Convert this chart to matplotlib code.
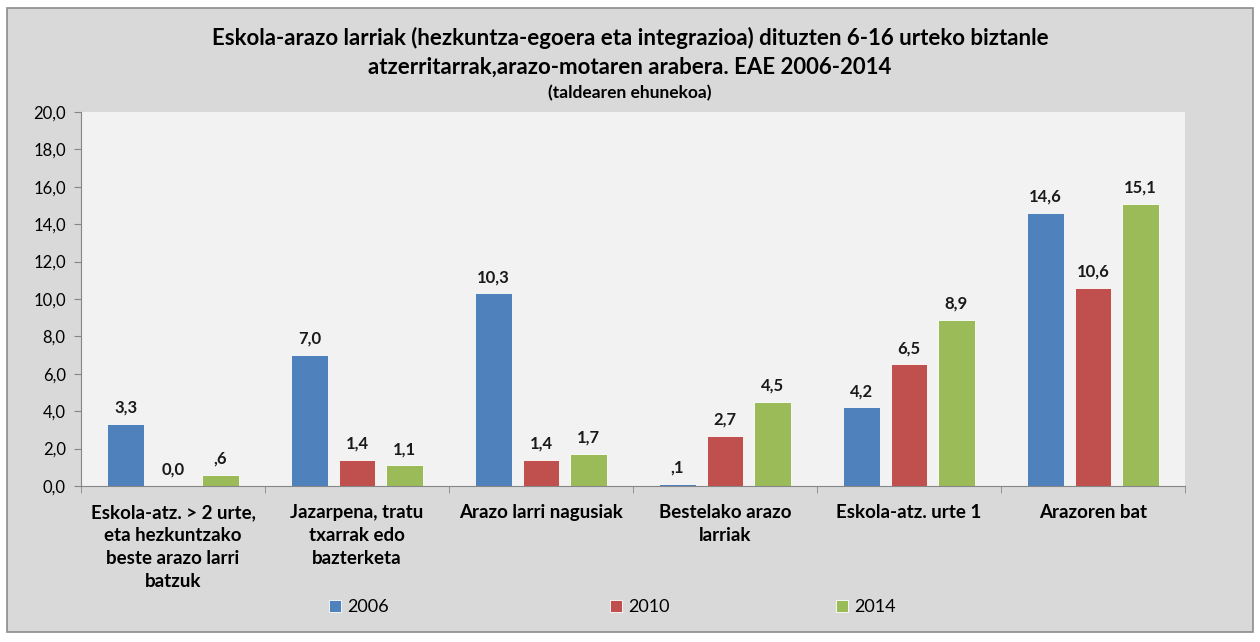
import numpy as np
import matplotlib.pyplot as plt
from matplotlib.patches import Rectangle

plt.rcParams['font.family'] = ['Lato', 'DejaVu Sans']

# Datuak
kategoriak = ["Eskola-atz. > 2 urte,\neta hezkuntzako\nbeste arazo larri\nbatzuk",
              "Jazarpena, tratu\ntxarrak edo\nbazterketa",
              "Arazo larri nagusiak",
              "Bestelako arazo\nlarriak",
              "Eskola-atz. urte 1",
              "Arazoren bat"]
urteak = ["2006", "2010", "2014"]
balioak_2006 = [3.3, 7.0, 10.3, 0.1, 4.2, 14.6]
balioak_2010 = [0.0, 1.4, 1.4, 2.7, 6.5, 10.6]
balioak_2014 = [0.6, 1.1, 1.7, 4.5, 8.9, 15.1]
etiketak_2006 = ["3,3", "7,0", "10,3", ",1", "4,2", "14,6"]
etiketak_2010 = ["0,0", "1,4", "1,4", "2,7", "6,5", "10,6"]
etiketak_2014 = [",6", "1,1", "1,7", "4,5", "8,9", "15,1"]
koloreak = ["#4f81bd", "#c0504d", "#9bbb59"]

fig = plt.figure(figsize=(12.6, 6.42), dpi=100, facecolor="white")
fig.patches.append(Rectangle((7/1260, 10/642), 1246/1260, 624/642, transform=fig.transFigure,
                             facecolor="#d9d9d9", edgecolor="#8c8c8c", linewidth=1.2, zorder=-10))
ax = fig.add_axes([81/1260, 1 - 486/642, 1104/1260, 374/642])
ax.set_facecolor("#f2f2f2")

x = np.arange(len(kategoriak))
zabalera = 0.196
desplaz = 0.258
serieak = [balioak_2006, balioak_2010, balioak_2014]
etiketak = [etiketak_2006, etiketak_2010, etiketak_2014]
barra_taldeak = []
for i in range(3):
    barrak = ax.bar(x + (i - 1) * desplaz, serieak[i], zabalera, color=koloreak[i],
                    edgecolor="white", linewidth=0.6, label=urteak[i])
    barra_taldeak.append(barrak)
    for b, testua in zip(barrak, etiketak[i]):
        ax.annotate(testua, (b.get_x() + b.get_width() / 2, b.get_height()),
                    xytext=(0, 6), textcoords="offset points", ha="center", va="bottom",
                    fontsize=12, fontweight="bold", color="#1a1a1a")

ax.set_xlim(-0.5, len(kategoriak) - 0.5)
ax.set_ylim(0, 20)
ax.set_yticks(np.arange(0, 21, 2))
ax.set_yticklabels([("%.1f" % v).replace(".", ",") for v in np.arange(0, 21, 2)], fontsize=12)
ax.set_xticks(x)
ax.set_xticklabels(kategoriak, fontsize=13.5, fontweight="bold", va="top", linespacing=1.42)
ax.tick_params(axis="x", length=0, pad=13)
ax.set_xticks(np.arange(-0.5, len(kategoriak), 1), minor=True)
ax.tick_params(axis="x", which="minor", length=5, color="#868686")
ax.tick_params(axis="y", length=5, color="#868686", pad=6)
for s in ["top", "right"]:
    ax.spines[s].set_visible(False)
ax.spines["left"].set_color("#868686")
ax.spines["bottom"].set_color("#868686")

fig.text(0.5, 1 - 38/642, "Eskola-arazo larriak (hezkuntza-egoera eta integrazioa) dituzten 6-16 urteko biztanle",
         ha="center", va="center", fontsize=16, fontweight="bold")
fig.text(0.5, 1 - 67/642, "atzerritarrak,arazo-motaren arabera. EAE 2006-2014",
         ha="center", va="center", fontsize=16, fontweight="bold")
fig.text(0.5, 1 - 93/642, "(taldearen ehunekoa)", ha="center", va="center", fontsize=12.5, fontweight="bold")

# legenda: elementu bakoitza bere tokian
leg_x = [329, 610, 836]
for i in range(3):
    leg = fig.legend([barra_taldeak[i]], [urteak[i]], loc="center left",
                     bbox_to_anchor=(leg_x[i] / 1260, 1 - 607 / 642), frameon=False,
                     fontsize=13, handlelength=0.65, handleheight=0.65, handletextpad=0.35,
                     borderpad=0, borderaxespad=0)

fig.savefig("out.png", dpi=100, facecolor=fig.get_facecolor())
